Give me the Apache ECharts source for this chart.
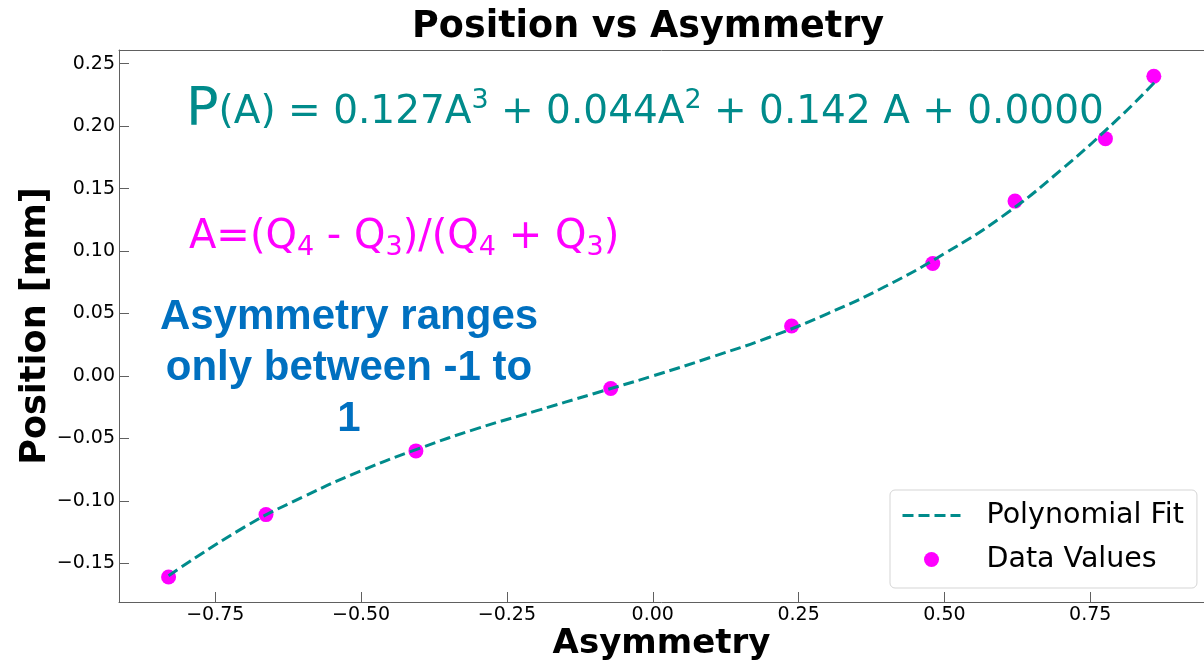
<!DOCTYPE html>
<html>
<head>
<meta charset="utf-8">
<title>Position vs Asymmetry</title>
<script src="https://cdn.jsdelivr.net/npm/echarts@6/dist/echarts.min.js"></script>
<style>
  html, body { margin: 0; padding: 0; background: #fff; }
  #chart { width: 1204px; height: 666px; }
</style>
</head>
<body>
<div id="chart"></div>
<script>
// measured points
var asym = [-0.830, -0.663, -0.406, -0.072, 0.238, 0.480, 0.621, 0.776, 0.859];
var pos = [-0.161, -0.111, -0.060, -0.010, 0.040, 0.090, 0.140, 0.190, 0.240];

// dashed fit curve
var fitA = [-0.83, -0.70, -0.60, -0.50, -0.40, -0.30, -0.20, -0.10, 0.00, 0.10, 0.20, 0.30, 0.40, 0.50, 0.60, 0.70, 0.80, 0.86];
var fitP = [-0.160, -0.121, -0.097, -0.076, -0.058, -0.042, -0.028, -0.014, 0.000, 0.015, 0.031, 0.050, 0.072, 0.098, 0.128, 0.165, 0.207, 0.235];

var xTicks = [-0.75, -0.50, -0.25, 0.00, 0.25, 0.50, 0.75];
var yTicks = [-0.15, -0.10, -0.05, 0.00, 0.05, 0.10, 0.15, 0.20, 0.25];

window.onload = function () {
    var myChart = echarts.init(document.getElementById('chart'));

    var fmt = function (v) {
        return v.toFixed(2).replace('-', '\u2212');
    };
    var pairs = function (xs, ys) {
        return xs.map(function (x, i) { return [x, ys[i]]; });
    };

    var font = 'DejaVu Sans';
    var teal = '#008b8b';
    var magenta = '#ff00ff';
    var spine = '#606060';

    var option = {
        animation: false,
        backgroundColor: '#fff',
        grid: { left: 119, top: 50, right: -11, bottom: 62 },
        legend: {
            orient: 'vertical',
            left: 890, top: 490,
            padding: [11, 13, 14, 11],
            itemGap: 15,
            itemWidth: 58, itemHeight: 15,
            backgroundColor: 'rgba(255,255,255,0.8)',
            borderColor: '#d5d5d5', borderWidth: 1, borderRadius: 5,
            textStyle: { fontFamily: font, fontSize: 28.5, color: '#000', padding: [0, 0, 0, 21] },
            data: [
                { name: 'Polynomial Fit', itemStyle: { opacity: 0 }, lineStyle: { width: 3, type: [11, 5] } },
                { name: 'Data Values' }
            ]
        },
        xAxis: [
            {
                type: 'value',
                min: -0.915, max: 0.945,
                name: 'Asymmetry',
                nameLocation: 'middle',
                nameGap: 25,
                nameMoveOverlap: false,
                nameTextStyle: { fontFamily: font, fontSize: 34, fontWeight: 'bold', color: '#000' },
                axisLine: { show: true, onZero: false, lineStyle: { color: spine, width: 1 } },
                axisTick: { show: true, inside: true, length: 10, customValues: xTicks, lineStyle: { color: spine } },
                axisLabel: { customValues: xTicks, formatter: fmt, margin: 4, fontFamily: font, fontSize: 19, color: '#000' },
                splitLine: { show: false }
            },
            {
                // top spine only
                type: 'value',
                position: 'top',
                min: -0.915, max: 0.945,
                axisLine: { show: true, onZero: false, lineStyle: { color: spine, width: 1 } },
                axisTick: { show: false },
                axisLabel: { show: false },
                splitLine: { show: false }
            }
        ],
        yAxis: {
            type: 'value',
            min: -0.181, max: 0.261,
            name: 'Position [mm]',
            nameLocation: 'middle',
            nameRotate: 90,
            nameGap: 66,
            nameMoveOverlap: false,
            nameTextStyle: { fontFamily: font, fontSize: 35, fontWeight: 'bold', color: '#000' },
            axisLine: { show: true, onZero: false, lineStyle: { color: spine, width: 1 } },
            axisTick: { show: true, inside: true, length: 10, customValues: yTicks, lineStyle: { color: spine } },
            axisLabel: { customValues: yTicks, formatter: fmt, margin: 4, fontFamily: font, fontSize: 19, color: '#000' },
            splitLine: { show: false }
        },
        graphic: [
            {
                type: 'text', x: 648, y: 27.5, z: 100,
                style: {
                    text: 'Position vs Asymmetry', align: 'center', verticalAlign: 'middle',
                    font: 'bold 36.5px "DejaVu Sans"', fill: '#000'
                }
            },
            {
                type: 'text', x: 186, y: 138, z: 100,
                style: {
                    text: '{p|P}{m|(A) = 0.127A}{s|3}{m| + 0.044A}{s|2}{m| + 0.142 A + 0.0000}',
                    verticalAlign: 'bottom', fill: teal,
                    rich: {
                        p: { fontFamily: font, fontSize: 54, color: teal, verticalAlign: 'bottom' },
                        m: { fontFamily: font, fontSize: 39, color: teal, verticalAlign: 'bottom', padding: [0, 0, 6, 0] },
                        s: { fontFamily: font, fontSize: 27, color: teal, verticalAlign: 'bottom', padding: [0, 0, 24, 0] }
                    }
                }
            },
            {
                type: 'text', x: 189, y: 261, z: 100,
                style: {
                    text: '{m|A=(Q}{b|4}{m| - Q}{b|3}{m|)/(Q}{b|4}{m| + Q}{b|3}{m|)}',
                    verticalAlign: 'bottom', fill: magenta,
                    rich: {
                        m: { fontFamily: font, fontSize: 40, color: magenta, verticalAlign: 'bottom', padding: [0, 0, 3, 0] },
                        b: { fontFamily: font, fontSize: 27, color: magenta, verticalAlign: 'bottom' }
                    }
                }
            },
            {
                type: 'text', x: 349, y: 292, z: 100,
                style: {
                    text: 'Asymmetry ranges\nonly between -1 to\n1',
                    align: 'center', verticalAlign: 'top',
                    font: 'bold 42px "Liberation Sans"', lineHeight: 51, fill: '#0070c0'
                }
            }
        ],
        series: [
            {
                name: 'Polynomial Fit',
                type: 'line',
                z: 3,
                data: pairs(fitA, fitP),
                smooth: true,
                symbol: 'none',
                color: teal,
                lineStyle: { color: teal, width: 3, type: [11, 5] }
            },
            {
                name: 'Data Values',
                type: 'scatter',
                z: 2,
                data: pairs(asym, pos),
                symbol: 'circle',
                symbolSize: 15,
                color: magenta,
                itemStyle: { color: magenta, opacity: 1 }
            }
        ]
    };

    myChart.setOption(option);
};
</script>
</body>
</html>
